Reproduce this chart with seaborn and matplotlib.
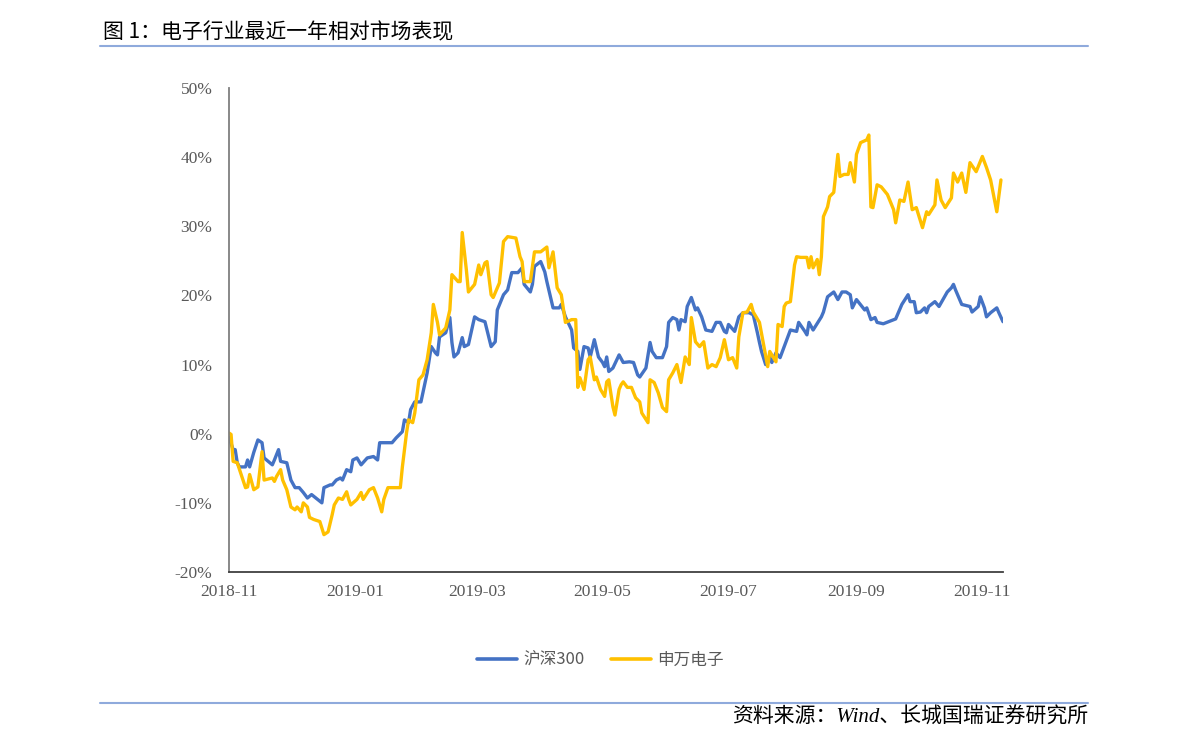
import numpy as np
import pandas as pd
import matplotlib
matplotlib.use("Agg")
import matplotlib.pyplot as plt
import matplotlib.dates as mdates
from matplotlib.ticker import FuncFormatter, MultipleLocator
from matplotlib.lines import Line2D
import seaborn as sns

# ---------------- data ----------------
start_date = "2018-11-01"
series_names = ["沪深300", "申万电子"]

hs300_days = [0, 2, 3, 4, 5, 8, 9, 10, 12, 14, 16, 17, 21, 22, 24, 25, 28, 30, 32, 34,
              36, 38, 40, 45, 46, 49, 50, 52, 54, 55, 57, 59, 60, 62, 64, 67, 70, 72, 73, 79,
              81, 84, 85, 87, 88, 90, 93, 96, 98, 100, 101, 102, 105, 107, 108, 109, 111, 113, 114, 116,
              119, 121, 124, 127, 129, 130, 133, 135, 137, 140, 142, 143, 146, 147, 148, 151, 153, 154, 157, 160,
              161, 163, 166, 167, 169, 170, 172, 174, 175, 177, 179, 181, 182, 183, 184, 186, 189, 191, 194, 196,
              198, 199, 202, 204, 205, 207, 210, 212, 213, 215, 217, 218, 219, 221, 222, 224, 226, 227, 229, 231,
              234, 236, 238, 240, 241, 242, 245, 247, 249, 252, 254, 256, 257, 258, 260, 262, 263, 265, 267, 269,
              272, 275, 276, 279, 280, 281, 283, 287, 288, 290, 293, 295, 297, 299, 301, 302, 304, 308, 309, 311,
              313, 314, 317, 323, 326, 329, 330, 332, 333, 335, 337, 338, 339, 342, 344, 348, 350, 351, 352, 355,
              359, 360, 363, 364, 366, 367, 369, 372, 373, 375]
hs300_values = [-0.5, -2.3, -2.3, -4.2, -4.8, -4.8, -3.8, -4.8, -2.7, -0.9, -1.3, -3.5, -4.5, -3.8, -2.3, -4.0, -4.2, -6.7, -7.8, -7.8,
                -8.5, -9.3, -8.8, -10.0, -7.8, -7.4, -7.4, -6.7, -6.4, -6.7, -5.2, -5.5, -3.8, -3.5, -4.5, -3.5, -3.3, -3.8, -1.3, -1.3,
                -0.6, 0.3, 2.0, 1.6, 3.5, 4.6, 4.6, 8.8, 12.6, 11.7, 11.4, 14.0, 14.6, 16.8, 13.2, 11.1, 11.7, 13.9, 12.6, 12.9,
                16.9, 16.5, 16.2, 12.6, 13.3, 17.9, 20.1, 20.8, 23.3, 23.3, 24.0, 21.6, 20.5, 21.6, 24.2, 24.9, 23.4, 22.0, 18.2, 18.2,
                18.7, 16.9, 15.0, 12.4, 11.9, 9.3, 12.6, 12.4, 11.1, 13.6, 11.1, 10.3, 9.7, 11.1, 9.0, 9.5, 11.4, 10.3, 10.4, 10.3,
                8.5, 8.2, 9.5, 13.2, 11.9, 11.0, 11.0, 12.6, 16.1, 16.8, 16.5, 15.0, 16.5, 16.2, 18.4, 19.7, 17.9, 18.2, 16.9, 15.0,
                14.8, 16.1, 16.1, 14.8, 14.6, 15.8, 14.8, 16.9, 17.5, 17.5, 17.2, 14.6, 13.2, 11.9, 10.0, 11.1, 10.3, 11.7, 11.0, 12.6,
                15.0, 14.8, 16.1, 14.8, 14.3, 16.1, 15.0, 16.9, 17.6, 19.8, 20.5, 19.4, 20.5, 20.5, 20.1, 18.2, 19.4, 17.9, 18.2, 16.5,
                16.8, 16.1, 15.9, 16.6, 18.7, 20.1, 19.1, 19.1, 17.5, 17.6, 18.2, 17.5, 18.4, 19.1, 18.4, 20.5, 21.1, 21.6, 20.8, 18.7,
                18.4, 17.6, 18.4, 19.8, 18.2, 16.9, 17.5, 18.2, 17.5, 16.2]

elec_days = [0, 1, 2, 4, 8, 9, 10, 12, 14, 16, 17, 21, 22, 23, 25, 26, 28, 30, 32, 33,
             35, 36, 38, 39, 41, 44, 46, 48, 50, 51, 53, 55, 57, 58, 59, 62, 64, 65, 68, 70,
             72, 74, 75, 77, 83, 84, 86, 87, 89, 90, 92, 94, 96, 98, 99, 101, 102, 105, 107, 108,
             111, 112, 113, 115, 116, 119, 121, 122, 124, 125, 127, 128, 131, 133, 135, 139, 141, 142, 143, 146,
             148, 151, 154, 155, 157, 159, 161, 163, 166, 168, 169, 170, 172, 174, 175, 177, 178, 180, 182, 183,
             184, 186, 187, 189, 190, 191, 193, 195, 197, 199, 200, 203, 204, 206, 208, 210, 212, 213, 215, 217,
             219, 221, 223, 224, 226, 228, 230, 232, 234, 236, 238, 240, 242, 244, 246, 247, 249, 251, 253, 254,
             257, 259, 261, 262, 265, 266, 268, 269, 270, 272, 274, 275, 277, 280, 281, 282, 283, 285, 286, 287,
             288, 290, 291, 293, 295, 296, 298, 300, 301, 303, 304, 306, 309, 310, 311, 312, 314, 316, 319, 322,
             323, 325, 327, 329, 331, 333, 336, 338, 339, 342, 343, 345, 347, 350, 351, 353, 355, 357, 359, 362,
             365, 367, 369, 372, 374]
elec_values = [0.1, -0.1, -4.0, -4.2, -7.8, -7.7, -5.9, -8.1, -7.7, -2.6, -6.7, -6.4, -6.9, -6.2, -5.2, -6.7, -8.1, -10.6, -11.0, -10.6,
               -11.3, -10.0, -10.6, -12.1, -12.4, -12.7, -14.6, -14.2, -11.7, -10.3, -9.3, -9.5, -8.4, -9.5, -10.3, -9.5, -8.5, -9.5, -8.1, -7.8,
               -9.3, -11.3, -9.5, -7.8, -7.8, -4.8, 0.1, 2.0, 1.6, 3.0, 7.8, 8.5, 10.7, 14.6, 18.7, 16.1, 14.3, 15.3, 17.9, 23.0,
               22.0, 22.0, 29.1, 23.7, 20.5, 21.6, 24.4, 23.0, 24.7, 24.9, 20.1, 19.7, 21.8, 27.8, 28.5, 28.3, 25.6, 24.9, 22.0, 22.0,
               26.3, 26.3, 27.0, 24.0, 26.3, 21.1, 20.1, 16.1, 16.5, 16.5, 6.7, 8.1, 6.4, 10.7, 11.1, 7.8, 8.2, 6.4, 5.4, 7.5,
               7.8, 3.9, 2.7, 6.4, 7.1, 7.5, 6.7, 6.7, 5.2, 4.6, 3.0, 1.6, 7.8, 7.4, 5.9, 3.8, 3.2, 7.8, 8.8, 10.0,
               7.4, 11.1, 10.0, 16.8, 13.3, 12.6, 13.3, 9.5, 10.0, 9.7, 11.0, 13.6, 10.7, 11.0, 9.5, 14.0, 17.5, 17.6, 18.7, 17.6,
               16.1, 12.9, 9.7, 11.9, 10.4, 15.8, 15.5, 18.4, 18.9, 19.1, 24.4, 25.6, 25.5, 25.5, 24.0, 25.6, 24.0, 25.2, 23.0, 25.6,
               31.4, 32.8, 34.3, 34.9, 40.4, 37.2, 37.5, 37.5, 39.2, 36.4, 40.4, 42.1, 42.5, 43.2, 32.8, 32.7, 36.0, 35.7, 34.6, 32.4,
               30.5, 33.8, 33.6, 36.4, 32.4, 32.7, 29.8, 32.1, 31.7, 33.1, 36.7, 33.8, 32.7, 34.1, 37.7, 36.4, 37.7, 34.9, 39.2, 37.9,
               40.1, 38.5, 36.7, 32.1, 36.7]

y_ticks = [-20, -10, 0, 10, 20, 30, 40, 50]
x_tick_labels = ["2018-11", "2019-01", "2019-03", "2019-05", "2019-07", "2019-09", "2019-11"]
end_day = 375

title_text = "图 1：电子行业最近一年相对市场表现"
source_text = "资料来源：Wind、长城国瑞证券研究所"

# ---------------- build table ----------------
t0 = pd.Timestamp(start_date)
df = pd.concat([
    pd.DataFrame({"date": t0 + pd.to_timedelta(hs300_days, unit="D"),
                  "value": hs300_values, "series": series_names[0]}),
    pd.DataFrame({"date": t0 + pd.to_timedelta(elec_days, unit="D"),
                  "value": elec_values, "series": series_names[1]}),
], ignore_index=True)

# ---------------- style ----------------
sns.set_theme(style="white")
plt.rcParams["font.family"] = ["Noto Sans CJK SC", "DejaVu Sans"]

fig = plt.figure(figsize=(11.91, 7.49), dpi=100)
ax = fig.add_axes([229 / 1191, 1 - 572 / 749, (1003 - 229) / 1191, (572 - 88) / 749])

palette = {series_names[0]: "#4472C4", series_names[1]: "#FFC000"}
sns.lineplot(data=df, x="date", y="value", hue="series", palette=palette,
             estimator=None, sort=True, linewidth=2.4, ax=ax, legend=False)

ax.set_ylim(-20, 50)
ax.set_yticks(y_ticks)
ax.yaxis.set_major_formatter(FuncFormatter(lambda v, p: f"{int(round(v))}%"))
ax.set_xlim(t0, t0 + pd.Timedelta(days=end_day))
xt = [pd.Timestamp(s + "-01") for s in x_tick_labels]
ax.set_xticks(xt)
ax.set_xticklabels(x_tick_labels)
ax.set_xlabel("")
ax.set_ylabel("")
ax.grid(False)

for side in ["top", "right"]:
    ax.spines[side].set_visible(False)
ax.spines["left"].set_color("#7F7F7F")
ax.spines["left"].set_linewidth(1.3)
ax.spines["bottom"].set_color("#404040")
ax.spines["bottom"].set_linewidth(1.3)

ax.tick_params(axis="both", length=0, colors="#595959", labelsize=12.5)
ax.tick_params(axis="y", pad=12)
ax.tick_params(axis="x", pad=9)
for lab in ax.get_xticklabels() + ax.get_yticklabels():
    lab.set_fontfamily(["Liberation Serif", "DejaVu Serif"])

# legend
handles = [Line2D([], [], color=palette[n], lw=2.6) for n in series_names]
leg = fig.legend(handles, series_names, loc="center", bbox_to_anchor=(0.504, 1 - 660 / 749),
                 ncol=2, frameon=False, fontsize=12, handlelength=2.4, handletextpad=0.35,
                 columnspacing=1.6)
for t in leg.get_texts():
    t.set_color("#595959")

# title, rules and source
fig.text(103 / 1191, 1 - 32 / 749, title_text, fontsize=15, color="#000000",
         ha="left", va="center")
fig.add_artist(Line2D([100 / 1191, 1088 / 1191], [1 - 46 / 749] * 2,
                      color="#8FAADC", lw=1.5))
fig.add_artist(Line2D([100 / 1191, 1088 / 1191], [1 - 703 / 749] * 2,
                      color="#8FAADC", lw=1.5))
fig.text(1088 / 1191, 1 - 718 / 749, source_text, fontsize=15, color="#000000",
         ha="right", va="center", style="italic",
         family=["Liberation Serif", "Noto Sans CJK SC"])

fig.savefig("out.png", dpi=100)
